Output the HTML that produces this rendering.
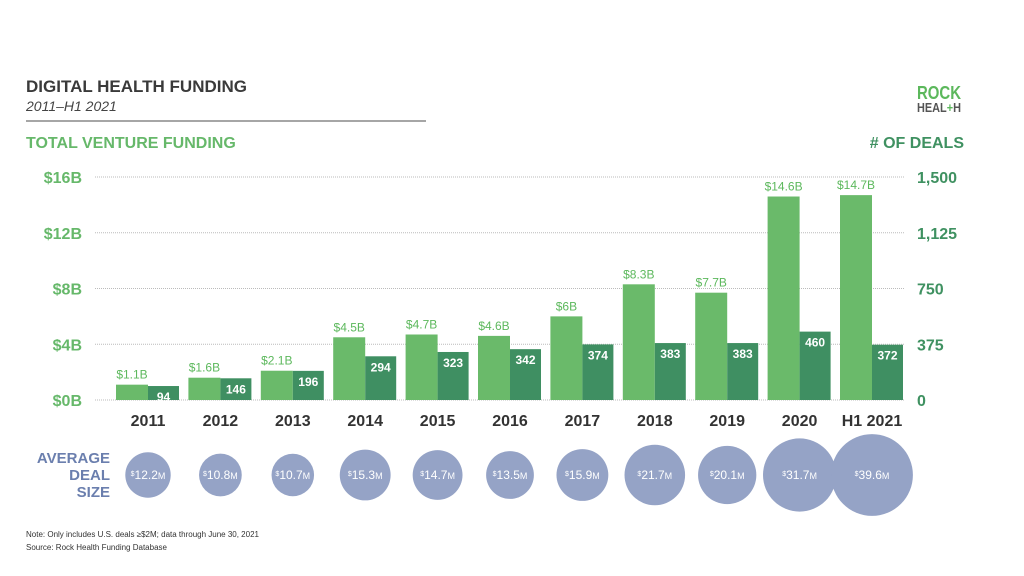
<!DOCTYPE html>
<html><head><meta charset="utf-8"><style>
body{margin:0;background:#fff;}
svg{display:block;font-family:"Liberation Sans",sans-serif;}
</style></head><body>
<svg id="c" width="1024" height="576" viewBox="0 0 1024 576">
<text x="26" y="92" font-size="17" font-weight="bold" fill="#3a3a3a">DIGITAL HEALTH FUNDING</text>
<text x="26" y="111" font-size="14" font-style="italic" fill="#444">2011–H1 2021</text>
<line x1="26" y1="121" x2="426" y2="121" stroke="#888" stroke-width="1.5"/>
<text x="26" y="148" font-size="16" font-weight="bold" fill="#66b86a">TOTAL VENTURE FUNDING</text>
<text x="964" y="148" font-size="16" font-weight="bold" fill="#3f9161" text-anchor="end"># OF DEALS</text>
<g>
<text x="917" y="99" font-size="18" font-weight="bold" fill="#5cb85c" textLength="44" lengthAdjust="spacingAndGlyphs">ROCK</text>
<text x="917" y="112" font-size="13" font-weight="bold" fill="#555" textLength="44" lengthAdjust="spacingAndGlyphs">HEAL<tspan fill="#5cb85c">+</tspan>H</text>
</g>
<g id="grid"></g><g id="bars"></g><g id="bub"></g>
<g font-size="15" font-weight="bold" fill="#6b7fae" text-anchor="end">
<text x="110" y="463">AVERAGE</text><text x="110" y="480">DEAL</text><text x="110" y="497">SIZE</text>
</g>
<text x="26" y="537" font-size="8" fill="#333">Note: Only includes U.S. deals ≥$2M; data through June 30, 2021</text>
<text x="26" y="550" font-size="8" fill="#333">Source: Rock Health Funding Database</text>
</svg>
<script>
const years=["2011","2012","2013","2014","2015","2016","2017","2018","2019","2020","H1 2021"];
const funding=[1.1,1.6,2.1,4.5,4.7,4.6,6,8.3,7.7,14.6,14.7];
const fundingLabels=["$1.1B","$1.6B","$2.1B","$4.5B","$4.7B","$4.6B","$6B","$8.3B","$7.7B","$14.6B","$14.7B"];
const deals=[94,146,196,294,323,342,374,383,383,460,372];
const avgSize=[12.2,10.8,10.7,15.3,14.7,13.5,15.9,21.7,20.1,31.7,39.6];
const leftTicks=[0,4,8,12,16];
const rightTicks=[0,375,750,1125,1500];
const NS="http://www.w3.org/2000/svg";
function mk(p,t,a,txt){const e=document.createElementNS(NS,t);for(const k in a)e.setAttribute(k,a[k]);if(txt!==undefined)e.textContent=txt;p.appendChild(e);return e;}
const y0=400,yTop=177;
const yL=v=>y0-(v/16)*(y0-yTop);
const yR=v=>y0-(v/1500)*(y0-yTop);
const xC=i=>148+i*72.4;
const rB=v=>6.5*Math.sqrt(v);
const g=document.getElementById('grid'),b=document.getElementById('bars'),bb=document.getElementById('bub');
leftTicks.forEach((t,i)=>{
 const l=mk(g,'line',{x1:95,x2:905,y1:yL(t),y2:yL(t),stroke:'#bbb','stroke-width':1,'stroke-dasharray':'1,1'});
 
 
 const tx=mk(g,'text',{x:82,y:yL(t)+6,'font-size':16,'font-weight':'bold',fill:'#66b86a','text-anchor':'end'},'$'+t+'B');
 
 
});
rightTicks.forEach(t=>{
 const tx=mk(g,'text',{x:917,y:yR(t)+6,'font-size':16,'font-weight':'bold',fill:'#3f9161'},t.toLocaleString('en-US'));
 
 
});
years.forEach((yr,i)=>{
 const c=xC(i);
 const r1=mk(b,'rect',{x:c-32,y:yL(funding[i]),width:32,height:y0-yL(funding[i]),fill:'#6aba6a'});
 
 
 const r2=mk(b,'rect',{x:c,y:yR(deals[i]),width:31,height:y0-yR(deals[i]),fill:'#3f8f62'});
 
 
 const t1=mk(b,'text',{x:c-16,y:yL(funding[i])-6,'font-size':12,fill:'#5cb85c','text-anchor':'middle'},fundingLabels[i]);
 
 
 const t2=mk(b,'text',{x:c+15.5,y:yR(deals[i])+15,'font-size':12,'font-weight':'bold',fill:'#fff','text-anchor':'middle'},deals[i]);
 
 
 const t3=mk(b,'text',{x:c,y:426,'font-size':16,'font-weight':'bold',fill:'#333','text-anchor':'middle'},yr);
 
 
 const ci=mk(bb,'circle',{cx:c,cy:475,r:rB(avgSize[i]),fill:'#95a3c6'});
 
 
 const tx=mk(bb,'text',{x:c,y:479,'font-size':12,fill:'#fff','text-anchor':'middle'});
 tx.innerHTML='<tspan font-size="7" dy="-3">$</tspan><tspan dy="3">'+avgSize[i].toFixed(1)+'</tspan><tspan font-size="9">M</tspan>';
 
 
});
</script>
</body></html>
